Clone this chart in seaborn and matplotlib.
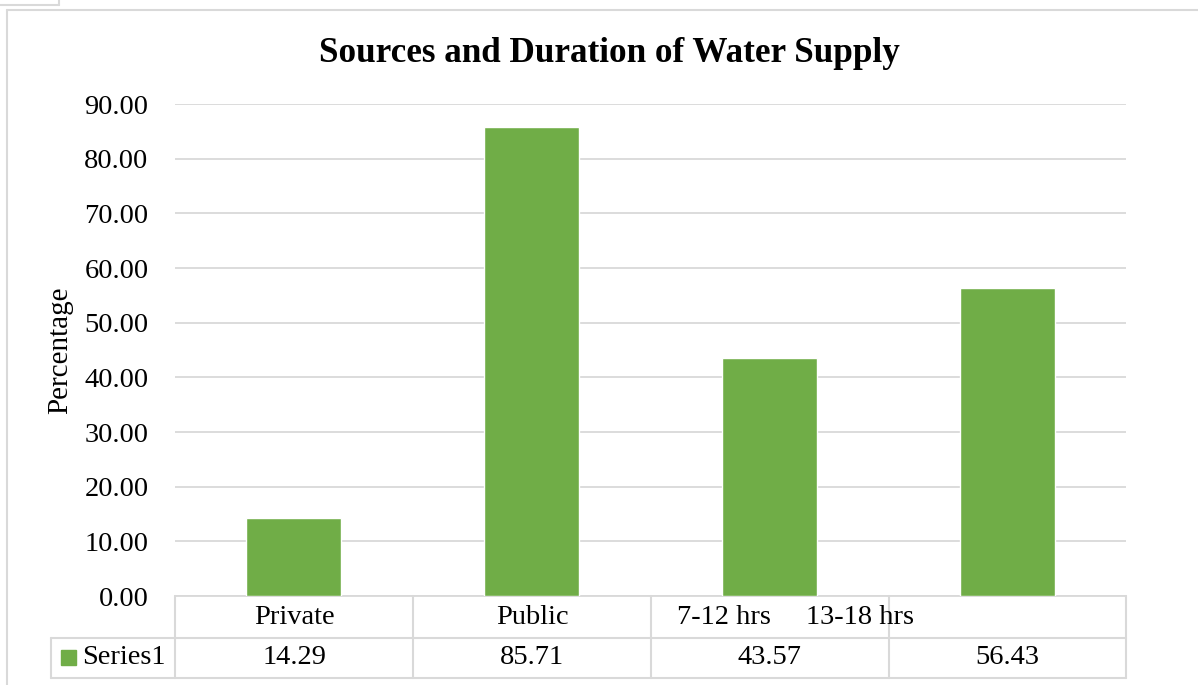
import matplotlib
matplotlib.use("Agg")
import matplotlib.pyplot as plt
import seaborn as sns
import pandas as pd
from matplotlib.lines import Line2D
from matplotlib.patches import Rectangle

categories = ["Private", "Public", "7-12 hrs", "13-18 hrs"]
values = [14.29, 85.71, 43.57, 56.43]
series_name = "Series1"
yticks = [0, 10, 20, 30, 40, 50, 60, 70, 80, 90]

sns.set_theme(style="white")
plt.rcParams['font.family'] = ['Liberation Serif', 'DejaVu Serif']
plt.rcParams['text.color'] = 'black'

W, H = 1198, 685
fig = plt.figure(figsize=(W / 100, H / 100), dpi=100)
GRID = "#d9d9d9"
GREEN = "#70ad47"
FS = 20.5

def fx(px):
    return px / W

def fy(py):
    return 1 - py / H

ax = fig.add_axes([fx(175), fy(596), fx(1126) - fx(175), fy(104) - fy(596)])
df = pd.DataFrame({"cat": categories, "val": values})
sns.barplot(data=df, x="cat", y="val", color=GREEN, width=0.4, saturation=1,
            ax=ax, zorder=3)
ax.set_ylim(0, 90)
ax.set_xlim(-0.5, 3.5)
ax.set_yticks(yticks)
ax.set_yticklabels([f"{v:.2f}" for v in yticks], fontsize=FS)
ax.tick_params(axis="y", length=0, pad=19, colors="black")
ax.set_xticks([])
ax.set_xlabel("")
ax.set_ylabel("Percentage", fontsize=21, color="black", va="center")
ax.yaxis.set_label_coords((60 - 175) / 951, 0.5)
ax.yaxis.grid(True, color=GRID, linewidth=1.3, zorder=0)
for s in ["top", "right", "left"]:
    ax.spines[s].set_visible(False)
ax.spines["bottom"].set_color(GRID)
ax.spines["bottom"].set_linewidth(1.3)

fig.text(fx(609), fy(53), "Sources and Duration of Water Supply", ha="center",
         va="center", fontsize=25.3, fontweight="bold", color="black")

def hline(y, x0, x1):
    fig.add_artist(Line2D([fx(x0), fx(x1)], [fy(y), fy(y)], color=GRID, lw=1.5))

def vline(x, y0, y1):
    fig.add_artist(Line2D([fx(x), fx(x)], [fy(y0), fy(y1)], color=GRID, lw=1.5))

# outer frame
hline(10, 7, W)
vline(7, 10, H)
hline(5, 0, 59)
vline(59, 0, 5)

# data table
cols = [175, 413, 651, 889, 1126]
hline(638, 51, 1126)
hline(678, 51, 1126)
vline(51, 638, 678)
for c in cols:
    vline(c, 596, 678)

# header row (category labels, placed as in the reference)
fig.text(fx(294), fy(617), categories[0], ha="center", va="center", fontsize=FS)
fig.text(fx(532), fy(617), categories[1], ha="center", va="center", fontsize=FS)
fig.text(fx(677), fy(617), categories[2], ha="left", va="center", fontsize=FS)
fig.text(fx(806), fy(617), categories[3], ha="left", va="center", fontsize=FS)

for i in range(4):
    cx = (cols[i] + cols[i + 1]) / 2
    fig.text(fx(cx), fy(658), f"{values[i]:.2f}", ha="center", va="center", fontsize=FS)
fig.add_artist(Rectangle((fx(61), fy(665)), fx(15), fy(650) - fy(665), color=GREEN,
                         transform=fig.transFigure))
fig.text(fx(82), fy(658), series_name, ha="left", va="center", fontsize=FS)

fig.savefig("out.png", dpi=100)
